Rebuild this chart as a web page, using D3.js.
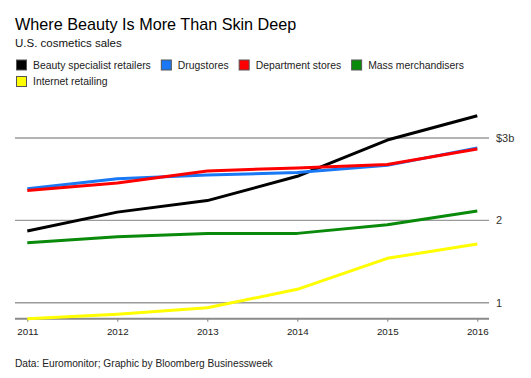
<!DOCTYPE html>
<html>
<head>
<meta charset="utf-8">
<script src="https://cdn.jsdelivr.net/npm/d3@7"></script>
<style>
  html, body { margin: 0; padding: 0; background: #fff; }
  svg { display: block; font-family: "Liberation Sans", Arial, Helvetica, sans-serif; }
</style>
</head>
<body>
<svg id="chart" width="531" height="378"></svg>
<script>
// ---- data ----
const years = [2011, 2012, 2013, 2014, 2015, 2016];
const seriesNames = ["Beauty specialist retailers", "Drugstores", "Department stores", "Mass merchandisers", "Internet retailing"];
const seriesColors = ["#000000", "#1a78f5", "#ff0000", "#0a8a0a", "#ffff00"];
const beautySpecialist = [1.87, 2.10, 2.24, 2.535, 2.975, 3.27];
const drugstores = [2.385, 2.505, 2.55, 2.58, 2.668, 2.88];
const departmentStores = [2.363, 2.455, 2.60, 2.637, 2.678, 2.866];
const massMerchandisers = [1.727, 1.80, 1.842, 1.842, 1.947, 2.114];
const internetRetailing = [0.804, 0.861, 0.939, 1.163, 1.539, 1.714];
const yTicks = [1, 2, 3];
const yTickLabels = ["1", "2", "$3b"];
const title = "Where Beauty Is More Than Skin Deep";
const subtitle = "U.S. cosmetics sales";
const footer = "Data: Euromonitor; Graphic by Bloomberg Businessweek";

const seriesValues = [beautySpecialist, drugstores, departmentStores, massMerchandisers, internetRetailing];

// ---- layout ----
const svg = d3.select("#chart");
const gridLeft = 15, gridRight = 489;

const x = d3.scalePoint().domain(years).range([27.3, 477.3]);
const y = d3.scaleLinear().domain([0.8, 3.3]).range([319.2, 113.3]);

// Title / subtitle
svg.append("text").attr("x", 15).attr("y", 29.8)
  .attr("font-size", 16.2).attr("fill", "#000").text(title);
svg.append("text").attr("x", 15).attr("y", 46.8)
  .attr("font-size", 11.5).attr("fill", "#111").text(subtitle);

// Legend (flow layout)
const legend = svg.append("g");
let lx = 16, ly = 0;
const rowTops = [59.5, 76];
const maxX = 490;
seriesNames.forEach((name, i) => {
  const g = legend.append("g");
  const t = g.append("text").attr("font-size", 10.4).attr("fill", "#222").text(name);
  const w = t.node().getComputedTextLength();
  if (lx + 17 + w > maxX) { lx = 16; ly += 1; }
  const top = rowTops[ly];
  g.append("rect").attr("x", lx + 0.5).attr("y", top + 0.5).attr("width", 10).attr("height", 10)
    .attr("fill", seriesColors[i]).attr("stroke", "#555").attr("stroke-width", 1);
  t.attr("x", lx + 17).attr("y", top + 9.2);
  lx += 17 + w + 10;
});

// Gridlines
svg.append("g").selectAll("line").data(yTicks).join("line")
  .attr("x1", gridLeft).attr("x2", gridRight)
  .attr("y1", d => y(d)).attr("y2", d => y(d))
  .attr("stroke", "#9a9a9a").attr("stroke-width", 1.3);

// Y labels
svg.append("g").selectAll("text").data(yTicks).join("text")
  .attr("x", 496).attr("y", d => y(d) + 3.9)
  .attr("font-size", 11).attr("fill", "#333")
  .text((d, i) => yTickLabels[i]);

// X axis
const xAxis = d3.axisBottom(x).tickSize(3).tickPadding(6).tickFormat(d3.format("d"));
const xg = svg.append("g").attr("transform", `translate(0,${y(0.8) - 0.5})`).call(xAxis);
xg.select(".domain").remove();
xg.selectAll(".tick line").attr("stroke", "#777").attr("stroke-width", 1);
xg.selectAll(".tick text").attr("font-size", 9.8).attr("fill", "#222")
  .attr("font-family", "Liberation Sans, Arial, sans-serif");
svg.append("line").attr("x1", gridLeft).attr("x2", gridRight)
  .attr("y1", y(0.8) - 0.5).attr("y2", y(0.8) - 0.5)
  .attr("stroke", "#8a8a8a").attr("stroke-width", 2);

// Lines
const line = d3.line().x((d, i) => x(years[i])).y(d => y(d));
svg.append("g").selectAll("path").data(seriesValues).join("path")
  .attr("d", d => line(d))
  .attr("fill", "none")
  .attr("stroke", (d, i) => seriesColors[i])
  .attr("stroke-width", 3)
  .attr("stroke-linejoin", "round");

// Footer
svg.append("text").attr("x", 15).attr("y", 367)
  .attr("font-size", 10.2).attr("fill", "#222").text(footer);
</script>
</body>
</html>
